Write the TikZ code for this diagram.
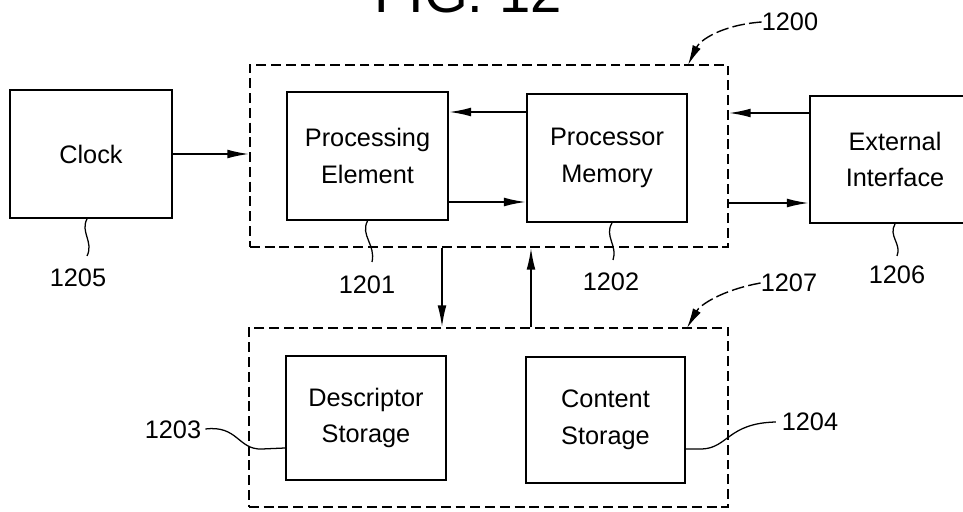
\documentclass[tikz,border=0pt]{standalone}
\usepackage{fontspec}
\setmainfont{Liberation Sans}
\usetikzlibrary{arrows.meta}

\begin{document}
\begin{tikzpicture}[x=0.025cm, y=0.025cm]
      \tikzstyle{every node}+=[inner sep=0pt, font=\fontsize{18}{26}\selectfont, align=center]
      \tikzstyle{block}=[draw=black, line width=1.4pt, minimum height=3.2cm]
      \tikzstyle{group}=[draw=black, line width=0.9pt, dash pattern=on 7pt off 3.5pt]
      \tikzstyle{arr}=[line width=1.3pt, -{Latex[length=5.5mm, width=2.2mm]}]
      \tikzstyle{lead}=[line width=1pt, dash pattern=on 9pt off 3pt, -{Latex[length=5mm, width=2.2mm]}]
      \tikzstyle{squig}=[line width=0.9pt]
      \useasboundingbox (0,0) rectangle (963,-512);
      \node (title) [anchor=base, font=\fontsize{40}{40}\selectfont] at (468,-13) {FIG. 12};
      \node (grpa) [group, minimum width=11.95cm, minimum height=4.55cm] at (489,-156) {};
      \node (grpb) [group, minimum width=11.975cm, minimum height=4.475cm] at (488.5,-417.5) {};
      \node (clock) [block, minimum width=4.05cm] at (91,-154) {Clock};
      \node (pe) [block, minimum width=4.025cm] at (367.5,-156) {Processing\\Element};
      \node (pm) [block, minimum width=4cm] at (607,-158) {Processor\\Memory};
      \node (ext) [block, minimum width=4.25cm, minimum height=3.175cm] at (895,-159.5) {External\\Interface};
      \node (ds) [block, minimum width=4cm, minimum height=3.1cm] at (366,-418) {Descriptor\\Storage};
      \node (cs) [block, minimum width=3.975cm, minimum height=3.15cm] at (605.5,-420) {Content\\Storage};
      \draw [arr] (clock.east) -- (clock.east -| grpa.west);
      \draw [arr] (pm.west |- 0,-112) -- (pe.east |- 0,-112);
      \draw [arr] (pe.east |- 0,-202) -- (pm.west |- 0,-202);
      \draw [arr] (ext.west |- 0,-113) -- (grpa.east |- 0,-113);
      \draw [arr] (grpa.east |- 0,-203) -- (ext.west |- 0,-203);
      \draw [arr] (grpa.south -| 442,0) -- (grpb.north -| 442,0);
      \draw [arr] (grpb.north -| 531,0) -- (grpa.south -| 531,0);
      \node (l1200) at (790,-22) {1200};
      \node (l1207) at (789,-283) {1207};
      \node (l1205) at (78,-278) {1205};
      \node (l1201) at (367,-285) {1201};
      \node (l1202) at (611,-282) {1202};
      \node (l1206) at (897,-275) {1206};
      \node (l1203) at (173,-430) {1203};
      \node (l1204) at (810,-422) {1204};
      \draw [lead] (l1200.west) .. controls (722,-25) and (700,-40) .. (688,-65);
      \draw [lead] (l1207.west) .. controls (722,-290) and (700,-305) .. (687,-328);
      \draw [squig] (clock.south -| 87,0) .. controls (80,-232) and (94,-242) .. (87,-256);
      \draw [squig] (pe.south) .. controls (360,-235) and (376,-245) .. (372,-262);
      \draw [squig] (pm.south -| 612,0) .. controls (604,-236) and (618,-246) .. (613,-260);
      \draw [squig] (ext.south) .. controls (888,-236) and (902,-244) .. (897,-256);
      \draw [squig] (l1203.east) ++(4,1) .. controls (238,-425) and (238,-450) .. (262,-449) -- (ds.west |- 0,-448);
      \draw [squig] (cs.east |- 0,-449) -- (702,-449) .. controls (728,-448) and (728,-423) .. ([xshift=-4]l1204.west);
\end{tikzpicture}
\end{document}
